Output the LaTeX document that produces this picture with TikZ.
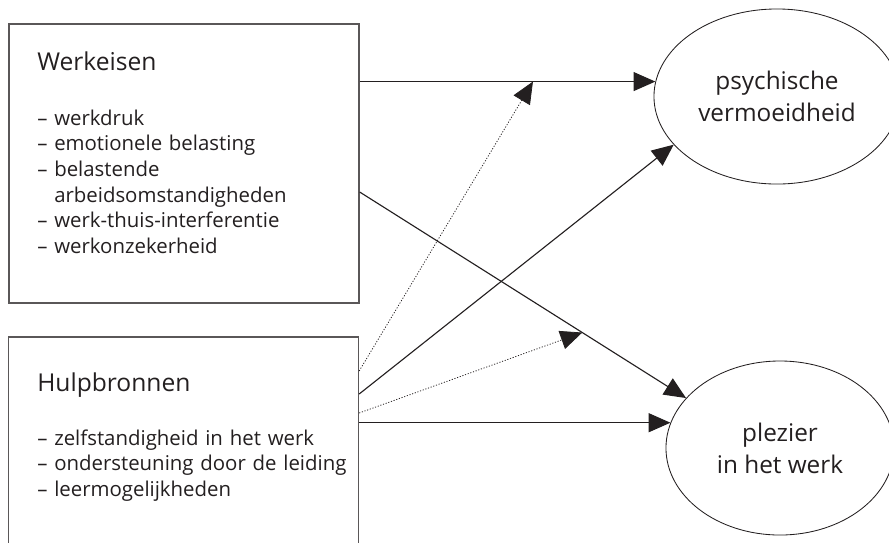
\documentclass[tikz,border=0pt]{standalone}
\usepackage{fontspec}
\setmainfont{Open Sans}
\usetikzlibrary{arrows.meta,shapes.geometric}
\definecolor{ink}{HTML}{231F20}

\begin{document}
\begin{tikzpicture}[x=0.025cm,y=-0.025cm,
    box/.style={draw=ink!75,line width=0.9pt,minimum width=8.75cm,minimum height=6.975cm,inner sep=0pt},
    factor/.style={draw=ink,line width=0.6pt,ellipse,inner sep=0pt,align=center,text=ink,
      font=\fontsize{17.3}{22.8}\selectfont},
    title/.style={anchor=base west,inner sep=0pt,text=ink,font=\fontsize{17.5}{21}\selectfont},
    items/.style={anchor=base west,inner sep=0pt,text width=8cm,align=left,text=ink,
      font=\fontsize{14.5}{18.3}\selectfont},
    path/.style={draw=ink,line width=0.8pt,-{Triangle[length=15.5pt,width=13.5pt]}},
    moderation/.style={path,line width=0.55pt,dash pattern=on 0.8pt off 1.2pt}]
    \clip (0,0) rectangle (889,542);
    %
    \node[box] (we) at (184,163.5) {};
    \node[title] (we-title) at (37,70) {Werkeisen};
    \node[items] (we-items) at (37,125) {– werkdruk\\
      – emotionele belasting\\
      – belastende\\
      \phantom{– }arbeidsomstandigheden\\
      – werk-thuis-interferentie\\
      – werkonzekerheid};
    %
    \node[box] (hb) at (183.5,476.5) {};
    \node[title] (hb-title) at (37,391) {Hulpbronnen};
    \node[items] (hb-items) at (37,445) {– zelfstandigheid in het werk\\
      – ondersteuning door de leiding\\
      – leermogelijkheden};
    %
    \node[factor,minimum width=6.15cm,minimum height=4.375cm] (ps) at (777,96.5) {psychische\\vermoeidheid};
    \node[factor,minimum width=5.7cm,minimum height=4.35cm] (pl) at (780,448) {plezier\\in het werk};
    %
    \path (we.east) ++(0,28.5) coordinate (we-b);
    \path (hb.east) ++(0,-105.5) coordinate (hb-a);
    \path (hb.east) ++(0,-82.5) coordinate (hb-b);
    \path (hb.east) ++(0,-63.5) coordinate (hb-c);
    %
    \draw[path] (we.east |- ps.173) -- coordinate[pos=0.586] (m-ps) (ps.173);
    \draw[path] (we-b) -- coordinate[pos=0.682] (m-pl) (pl.152);
    \draw[path] (hb-b) -- (ps.205);
    \draw[path] (hb.east |- pl.167) -- (pl.167);
    %
    \draw[moderation] (hb-a) -- (m-ps);
    \draw[moderation] (hb-c) -- (m-pl);
\end{tikzpicture}
\end{document}
